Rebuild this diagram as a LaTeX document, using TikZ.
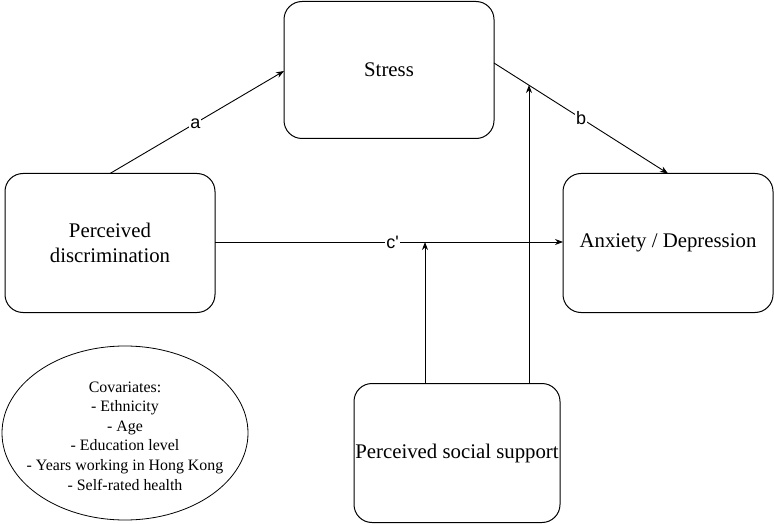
\documentclass[tikz,border=0pt]{standalone}
\usepackage{fontspec}
\setmainfont{Liberation Serif}
\newfontfamily\lblfont{Liberation Sans}
\usetikzlibrary{arrows.meta}
\tikzset{
  box/.style={draw=black, line width=1pt, rounded corners=18pt, inner sep=0pt, align=center, font=\fontsize{20.8}{24.5}\selectfont},
  conn/.style={draw=black, line width=0.9pt, -{Stealth[length=8pt,width=6pt]}},
  lbl/.style={fill=white, inner sep=1pt, font=\lblfont\fontsize{18}{20}\selectfont}
}
\begin{document}
\begin{tikzpicture}[x=1pt,y=-1pt]
\useasboundingbox (0,0) rectangle (774,524);
\node[box, minimum width=210pt, minimum height=139pt] (pd) at (110,243) {Perceived\\discrimination};
\node[box, minimum width=210pt, minimum height=137pt] (st) at (389,70) {Stress};
\node[box, minimum width=210pt, minimum height=139pt] (ad) at (668,243) {Anxiety / Depression};
\node[box, minimum width=206pt, minimum height=139pt] (ps) at (457,453) {Perceived social support};
\draw[line width=0.8pt] (125,433) ellipse [x radius=123, y radius=87];
\node[align=center, font=\fontsize{15.9}{19.6}\selectfont] (cov) at (125,436) {Covariates:\\- Ethnicity\\- Age\\- Education level\\- Years working in Hong Kong\\- Self-rated health};
\coordinate (pdtop) at (110,173.5);
\coordinate (stl) at (284,71);
\coordinate (str) at (494,63);
\coordinate (adtop) at (668,173.5);
\coordinate (pdr) at (215,242);
\coordinate (adl) at (563,242);
\coordinate (ctarget) at (425,242);
\draw[conn] (pdtop) -- node[lbl, pos=0.49] (la) {a} (stl);
\draw[conn] (str) -- node[lbl, pos=0.5] (lb) {b} (adtop);
\draw[conn] (pdr) -- node[lbl, pos=0.51] (lc) {c\textquotesingle} (adl);
\draw[conn] (ps.north -| ctarget) -- (ctarget);
\draw[conn] (ps.north -| 529,0) -- (529,85);
\end{tikzpicture}
\end{document}
